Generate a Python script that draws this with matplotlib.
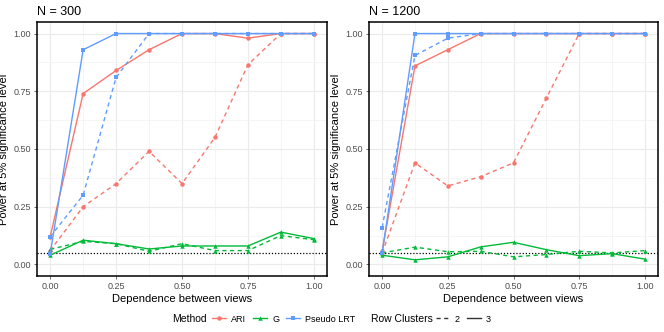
import matplotlib
matplotlib.use("Agg")
import matplotlib.pyplot as plt
from matplotlib.lines import Line2D
import numpy as np

plt.rcParams["font.family"] = ["Liberation Sans", "DejaVu Sans"]

dependence = [0.0, 0.125, 0.25, 0.375, 0.5, 0.625, 0.75, 0.875, 1.0]
panels = ["N = 300", "N = 1200"]

# N = 300
ari_2_n300 = [0.06, 0.25, 0.35, 0.49, 0.35, 0.55, 0.865, 1.0, 1.0]
ari_3_n300 = [0.12, 0.74, 0.84, 0.93, 1.0, 1.0, 0.98, 1.0, 1.0]
g_2_n300 = [0.065, 0.10, 0.09, 0.057, 0.09, 0.06, 0.06, 0.125, 0.107]
g_3_n300 = [0.04, 0.105, 0.09, 0.067, 0.08, 0.08, 0.08, 0.14, 0.112]
lrt_2_n300 = [0.12, 0.30, 0.81, 1.0, 1.0, 1.0, 1.0, 1.0, 1.0]
lrt_3_n300 = [0.045, 0.93, 1.0, 1.0, 1.0, 1.0, 1.0, 1.0, 1.0]

# N = 1200
ari_2_n1200 = [0.05, 0.44, 0.34, 0.38, 0.44, 0.72, 1.0, 1.0, 1.0]
ari_3_n1200 = [0.057, 0.86, 0.93, 1.0, 1.0, 1.0, 1.0, 1.0, 1.0]
g_2_n1200 = [0.05, 0.075, 0.055, 0.057, 0.033, 0.043, 0.057, 0.05, 0.06]
g_3_n1200 = [0.04, 0.02, 0.033, 0.076, 0.096, 0.064, 0.038, 0.047, 0.023]
lrt_2_n1200 = [0.16, 0.905, 0.98, 1.0, 1.0, 1.0, 1.0, 1.0, 1.0]
lrt_3_n1200 = [0.05, 1.0, 1.0, 1.0, 1.0, 1.0, 1.0, 1.0, 1.0]

methods = ["ARI", "G", "Pseudo LRT"]
colors = {"ARI": "#F8766D", "G": "#00BA38", "Pseudo LRT": "#619CFF"}
markers = {"ARI": "o", "G": "^", "Pseudo LRT": "s"}
styles = {2: (0, (3, 2.5)), 3: "-"}

data = {
    "N = 300": {
        ("ARI", 2): ari_2_n300, ("ARI", 3): ari_3_n300,
        ("G", 2): g_2_n300, ("G", 3): g_3_n300,
        ("Pseudo LRT", 2): lrt_2_n300, ("Pseudo LRT", 3): lrt_3_n300,
    },
    "N = 1200": {
        ("ARI", 2): ari_2_n1200, ("ARI", 3): ari_3_n1200,
        ("G", 2): g_2_n1200, ("G", 3): g_3_n1200,
        ("Pseudo LRT", 2): lrt_2_n1200, ("Pseudo LRT", 3): lrt_3_n1200,
    },
}

fig = plt.figure(figsize=(6.64, 3.32), dpi=100)
axes = [fig.add_axes([37 / 664, 56 / 332, 290 / 664, 254 / 332]),
        fig.add_axes([369 / 664, 56 / 332, 289 / 664, 254 / 332])]

for ax, panel in zip(axes, panels):
    ax.set_xlim(-0.05, 1.05)
    ax.set_ylim(-0.05, 1.05)
    ax.set_xticks([0, 0.25, 0.5, 0.75, 1.0])
    ax.set_yticks([0, 0.25, 0.5, 0.75, 1.0])
    ax.set_xticks(np.arange(0.125, 1.0, 0.25), minor=True)
    ax.set_yticks(np.arange(0.125, 1.0, 0.25), minor=True)
    ax.set_xticklabels(["0.00", "0.25", "0.50", "0.75", "1.00"])
    ax.set_yticklabels(["0.00", "0.25", "0.50", "0.75", "1.00"])
    ax.grid(True, which="major", color="#EBEBEB", linewidth=0.8)
    ax.grid(True, which="minor", color="#F2F2F2", linewidth=0.5)
    ax.set_axisbelow(True)
    ax.tick_params(which="major", length=2.5, width=0.5, color="#333333",
                   labelsize=6.5, labelcolor="#4D4D4D", pad=2)
    ax.tick_params(which="minor", length=0)
    for sp in ax.spines.values():
        sp.set_color("black")
        sp.set_linewidth(1.1)

    ax.axhline(0.05, color="black", linestyle=(0, (1, 1.5)), linewidth=0.9, zorder=1)

    for m in methods:
        for rc in [2, 3]:
            ax.plot(dependence, data[panel][(m, rc)], color=colors[m],
                    linestyle=styles[rc], linewidth=1.0, marker=markers[m],
                    markersize=3.2, markeredgewidth=0, zorder=3)

    ax.set_title(panel, loc="left", fontsize=9, pad=5, x=-0.0)
    ax.set_xlabel("Dependence between views", fontsize=8, labelpad=2)
    ax.set_ylabel("Power at 5% significance level", fontsize=8, labelpad=3)

# legend
leg_y = 1 - 319 / 332
fig.text(172 / 664, leg_y, "Method", fontsize=7.5, va="center", ha="left")
fig.text(371 / 664, leg_y, "Row Clusters", fontsize=7.5, va="center", ha="left")

method_handles = [Line2D([], [], color=colors[m], marker=markers[m], markersize=3.2,
                         markeredgewidth=0, linewidth=1.0) for m in methods]
leg1 = fig.legend(method_handles, methods, loc="center left",
                  bbox_to_anchor=(212 / 664, leg_y), ncol=3, frameon=False,
                  fontsize=6.5, handlelength=1.5, handletextpad=0.6,
                  columnspacing=0.8, borderpad=0, borderaxespad=0)

rc_handles = [Line2D([], [], color="#333333", linestyle=styles[rc], linewidth=1.0)
              for rc in [2, 3]]
leg2 = fig.legend(rc_handles, ["2", "3"], loc="center left",
                  bbox_to_anchor=(436 / 664, leg_y), ncol=2, frameon=False,
                  fontsize=6.5, handlelength=1.5, handletextpad=0.6,
                  columnspacing=0.8, borderpad=0, borderaxespad=0)

fig.savefig("out.png", dpi=100)
